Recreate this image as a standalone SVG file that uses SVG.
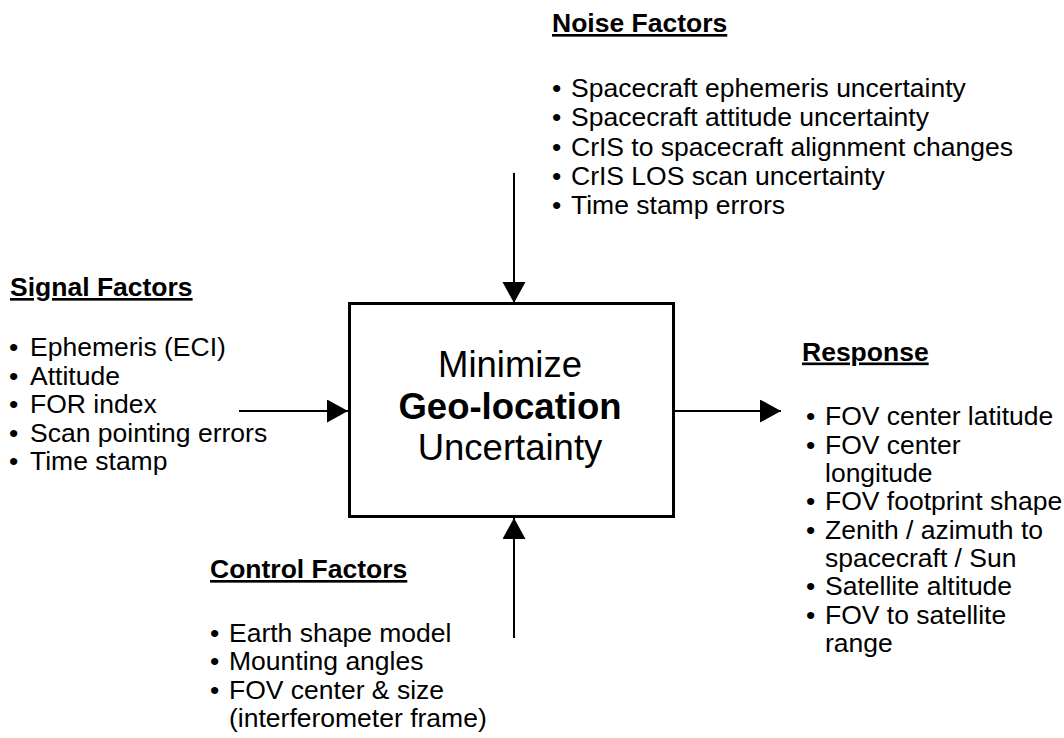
<svg xmlns="http://www.w3.org/2000/svg" width="1064" height="738" viewBox="0 0 1064 738">
<style>
text{font-family:"Liberation Sans",Arial,sans-serif;fill:#000}
.h{font-size:26.5px;font-weight:bold;text-decoration:underline}
.b{font-size:26.5px}
.c{font-size:36.5px;text-anchor:middle}
.conn{stroke:#000;stroke-width:2;fill:none;marker-end:url(#ah)}
</style>
<defs>
<marker id="ah" markerUnits="userSpaceOnUse" markerWidth="22" markerHeight="24" refX="21" refY="11.5" orient="auto">
<path d="M0,0 L21,11.5 L0,23 Z" fill="#000"/>
</marker>
</defs>
<rect width="1064" height="738" fill="#fff"/>
<g id="connectors">
<line class="conn" x1="514" y1="173" x2="514" y2="303"/>
<line class="conn" x1="239" y1="411" x2="348" y2="411"/>
<line class="conn" x1="675" y1="411" x2="781" y2="411"/>
<line class="conn" x1="514" y1="638" x2="514" y2="518"/>
</g>
<g id="process">
<rect x="349.5" y="303.5" width="324" height="213" fill="#fff" stroke="#000" stroke-width="3"/>
<text class="c" x="510" y="377">Minimize</text>
<text class="c" x="510" y="418.5" font-weight="bold">Geo-location</text>
<text class="c" x="510" y="460">Uncertainty</text>
</g>
<g id="noise">
<text class="h" x="552" y="32">Noise Factors</text>
<text class="b" x="552" y="97">•</text><text class="b" x="571" y="97">Spacecraft ephemeris uncertainty</text>
<text class="b" x="552" y="126">•</text><text class="b" x="571" y="126">Spacecraft attitude uncertainty</text>
<text class="b" x="552" y="155.5">•</text><text class="b" x="571" y="155.5">CrIS to spacecraft alignment changes</text>
<text class="b" x="552" y="184.5">•</text><text class="b" x="571" y="184.5">CrIS LOS scan uncertainty</text>
<text class="b" x="552" y="213.5">•</text><text class="b" x="571" y="213.5">Time stamp errors</text>
</g>
<g id="signal">
<text class="h" x="10" y="296">Signal Factors</text>
<text class="b" x="9" y="356">•</text><text class="b" x="30" y="356">Ephemeris (ECI)</text>
<text class="b" x="9" y="384.5">•</text><text class="b" x="30" y="384.5">Attitude</text>
<text class="b" x="9" y="413">•</text><text class="b" x="30" y="413">FOR index</text>
<text class="b" x="9" y="441.5">•</text><text class="b" x="30" y="441.5">Scan pointing errors</text>
<text class="b" x="9" y="470">•</text><text class="b" x="30" y="470">Time stamp</text>
</g>
<g id="response">
<text class="h" x="802" y="360.5">Response</text>
<text class="b" x="806" y="425">•</text><text class="b" x="825" y="425">FOV center latitude</text>
<text class="b" x="806" y="453.5">•</text><text class="b" x="825" y="453.5">FOV center</text>
<text class="b" x="825" y="482">longitude</text>
<text class="b" x="806" y="510">•</text><text class="b" x="825" y="510">FOV footprint shape</text>
<text class="b" x="806" y="538.5">•</text><text class="b" x="825" y="538.5">Zenith / azimuth to</text>
<text class="b" x="825" y="567">spacecraft / Sun</text>
<text class="b" x="806" y="595">•</text><text class="b" x="825" y="595">Satellite altitude</text>
<text class="b" x="806" y="623.5">•</text><text class="b" x="825" y="623.5">FOV to satellite</text>
<text class="b" x="825" y="652">range</text>
</g>
<g id="control">
<text class="h" x="210" y="578">Control Factors</text>
<text class="b" x="210" y="641.5">•</text><text class="b" x="229" y="641.5">Earth shape model</text>
<text class="b" x="210" y="670">•</text><text class="b" x="229" y="670">Mounting angles</text>
<text class="b" x="210" y="698.5">•</text><text class="b" x="229" y="698.5">FOV center &amp; size</text>
<text class="b" x="229" y="727">(interferometer frame)</text>
</g>
</svg>
